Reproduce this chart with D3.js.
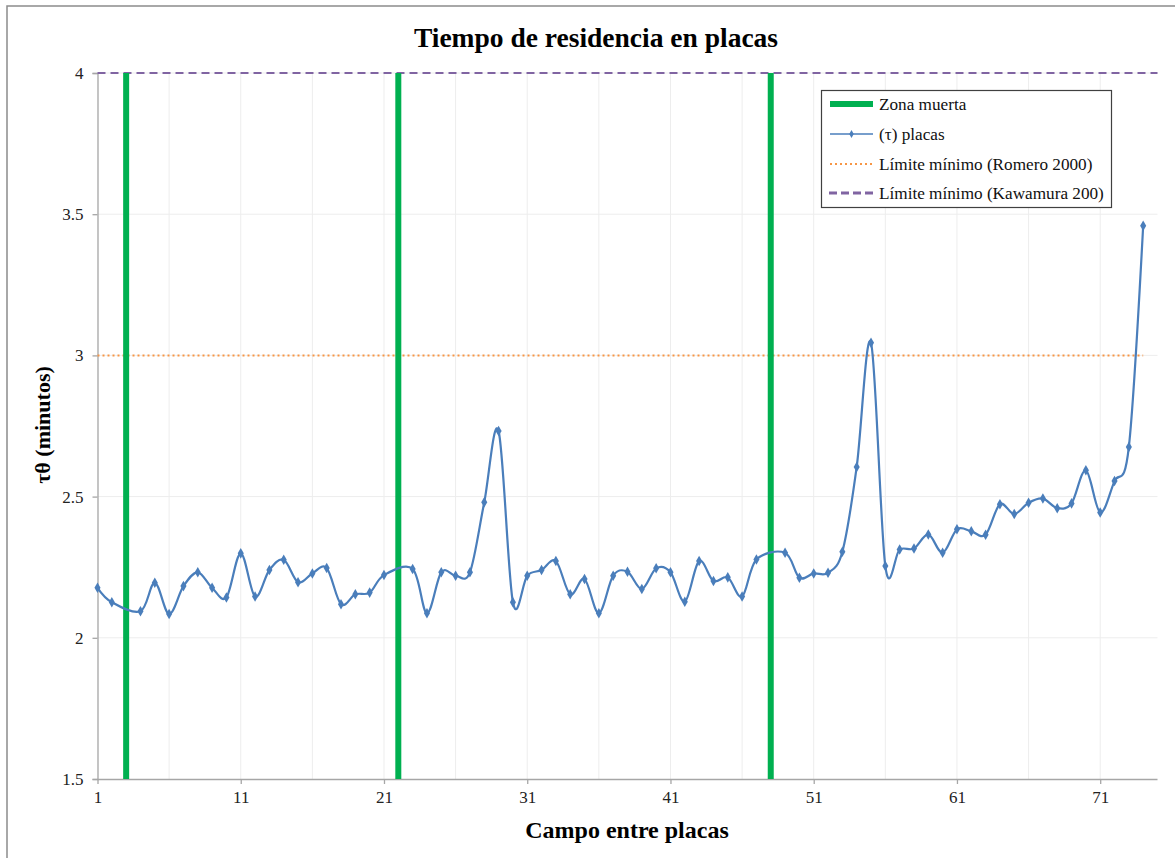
<!DOCTYPE html>
<html><head><meta charset="utf-8">
<script src="https://cdn.jsdelivr.net/npm/d3@7"></script>
<style>body{margin:0;background:#fff}svg{display:block}text{font-family:"Liberation Serif","Times New Roman",serif}</style>
</head><body><svg id="c" width="1175" height="858"></svg>
<script>
const campos = [1,2,4,5,6,7,8,9,10,11,12,13,14,15,16,17,18,19,20,21,
  23,24,25,26,27,28,29,30,31,32,33,34,35,36,37,38,39,40,41,42,43,44,45,46,47,
  49,50,51,52,53,54,55,56,57,58,59,60,61,62,63,64,65,66,67,68,69,70,71,72,73,74];
const tau = [2.177,2.126,2.094,2.195,2.084,2.183,2.232,2.177,2.143,2.299,2.146,2.240,2.276,2.197,2.228,2.247,2.119,2.154,2.160,2.222,
  2.244,2.087,2.232,2.220,2.232,2.480,2.732,2.126,2.220,2.240,2.272,2.154,2.208,2.087,2.220,2.234,2.173,2.246,2.232,2.128,2.272,2.201,2.214,2.146,2.277,
  2.301,2.213,2.228,2.230,2.305,2.605,3.045,2.254,2.313,2.316,2.366,2.301,2.384,2.377,2.365,2.473,2.438,2.478,2.493,2.459,2.476,2.593,2.444,2.555,2.676,3.459];
const zonaMuerta = [3, 22, 48];
const romero = 3, romeroRange = [1, 74];
const kawamura = 4, kawamuraRange = [1, 75];
const xTicks = [1,11,21,31,41,51,61,71];
const xGrid = [1,6,11,16,21,26,31,36,41,46,51,56,61,66,71];
const yTicks = [1.5,2,2.5,3,3.5,4];
const legendLabels = ["Zona muerta","(τ) placas","Límite mínimo (Romero 2000)","Límite mínimo (Kawamura 200)"];

const svg = d3.select("#c");
const L=97.5, R=1157.5, T=73, B=779;
const x = d3.scaleLinear().domain([1,75]).range([L,R]);
const y = d3.scaleLinear().domain([1.5,4]).range([B,T]);
const blue="#4A7EBB", green="#00B050", orange="#F79646", purple="#8064A2";

// outer border
svg.append("rect").attr("x",7).attr("y",6).attr("width",1175).attr("height",860)
  .attr("fill","none").attr("stroke","#8c8c8c").attr("stroke-width",1.5);

// grid
svg.append("g").selectAll("line").data(xGrid.slice(1)).join("line")
  .attr("x1",d=>x(d)).attr("x2",d=>x(d)).attr("y1",T).attr("y2",B).attr("stroke","#EDEDED").attr("stroke-width",1);
svg.append("g").selectAll("line").data(yTicks.slice(1)).join("line")
  .attr("x1",L).attr("x2",R).attr("y1",d=>y(d)).attr("y2",d=>y(d)).attr("stroke","#EDEDED").attr("stroke-width",1);

// axes
const yAxis = svg.append("g").attr("transform",`translate(${L},0)`)
  .call(d3.axisLeft(y).tickValues(yTicks).tickFormat(d=>d).tickSize(5).tickPadding(9));
const xAxis = svg.append("g").attr("transform",`translate(0,${B})`)
  .call(d3.axisBottom(x).tickValues(xTicks).tickFormat(d=>d).tickSize(5).tickPadding(7));
[yAxis,xAxis].forEach(g=>{
  g.selectAll("path,line").attr("stroke","#a6a6a6").attr("stroke-width",1.3);
  g.selectAll("text").attr("font-size",17).attr("fill","#222").style("font-family",'"Liberation Serif",serif');
});
xAxis.select(".domain").attr("d",`M${L},0.5H${R}`);

// reference lines
svg.append("line").attr("x1",x(romeroRange[0])).attr("x2",x(romeroRange[1])).attr("y1",y(romero)).attr("y2",y(romero))
  .attr("stroke",orange).attr("stroke-width",2).attr("stroke-dasharray","2,3");
svg.append("line").attr("x1",x(kawamuraRange[0])).attr("x2",x(kawamuraRange[1])).attr("y1",y(kawamura)).attr("y2",y(kawamura))
  .attr("stroke",purple).attr("stroke-width",2).attr("stroke-dasharray","8,5");

// dead zones
svg.append("g").selectAll("line").data(zonaMuerta).join("line")
  .attr("x1",d=>x(d)).attr("x2",d=>x(d)).attr("y1",y(4)).attr("y2",y(1.5))
  .attr("stroke",green).attr("stroke-width",6);

// series
const pts = campos.map((c,i)=>[c,tau[i]]);
svg.append("path").datum(pts)
  .attr("d",d3.line().x(d=>x(d[0])).y(d=>y(d[1])).curve(d3.curveCardinal.tension(0)))
  .attr("fill","none").attr("stroke",blue).attr("stroke-width",2.2);
svg.append("g").selectAll("path").data(pts).join("path")
  .attr("transform",d=>`translate(${x(d[0])},${y(d[1])})`)
  .attr("d",d3.symbol(d3.symbolDiamond,32)).attr("fill",blue);

// title & axis titles
svg.append("text").attr("x",596).attr("y",47).attr("text-anchor","middle")
  .attr("font-size",27.5).attr("font-weight","bold").text("Tiempo de residencia en placas");
svg.append("text").attr("x",627).attr("y",838).attr("text-anchor","middle")
  .attr("font-size",24).attr("font-weight","bold").text("Campo entre placas");
svg.append("text").attr("transform","translate(50,425) rotate(-90)").attr("text-anchor","middle")
  .attr("font-size",22).attr("font-weight","bold").text("τθ (minutos)");

// legend
const lg = svg.append("g");
lg.append("rect").attr("x",821.5).attr("y",90.5).attr("width",290).attr("height",117)
  .attr("fill","#fff").attr("stroke","#404040").attr("stroke-width",1.2);
const ly = [104,134,164,193];
lg.append("line").attr("x1",830).attr("x2",873).attr("y1",ly[0]).attr("y2",ly[0]).attr("stroke",green).attr("stroke-width",6);
lg.append("line").attr("x1",830).attr("x2",873).attr("y1",ly[1]).attr("y2",ly[1]).attr("stroke",blue).attr("stroke-width",1.5);
lg.append("path").attr("transform",`translate(851.5,${ly[1]})`).attr("d",d3.symbol(d3.symbolDiamond,18)).attr("fill",blue);
lg.append("line").attr("x1",830).attr("x2",873).attr("y1",ly[2]).attr("y2",ly[2]).attr("stroke",orange).attr("stroke-width",2).attr("stroke-dasharray","2,3");
lg.append("line").attr("x1",829).attr("x2",875).attr("y1",ly[3]).attr("y2",ly[3]).attr("stroke",purple).attr("stroke-width",3).attr("stroke-dasharray","8,4");
lg.selectAll("text.l").data(legendLabels).join("text").attr("class","l")
  .attr("x",879).attr("y",(d,i)=>ly[i]+5.5).attr("font-size",17.2).attr("fill","#111").text(d=>d);
</script></body></html>
